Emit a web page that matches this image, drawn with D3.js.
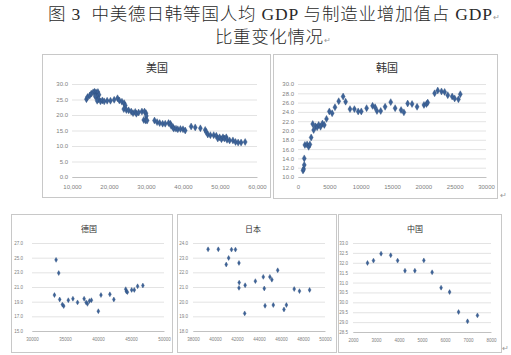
<!DOCTYPE html>
<html><head><meta charset="utf-8">
<script src="https://cdn.jsdelivr.net/npm/d3@7/dist/d3.min.js"></script>
<style>html,body{margin:0;padding:0;background:#fff;}svg{display:block;}</style>
</head><body>
<svg id="c" width="511" height="355"></svg>
<script>
// ---- data ----
const titleLine1 = "图 3  中美德日韩等国人均 GDP 与制造业增加值占 GDP";
const titleLine2 = "比重变化情况";
const panelTitles = ["美国", "韩国", "德国", "日本", "中国"];

const usX = [13900,14200,14800,15200,15700,16100,16500,16800,17000,17300,16800,16300,17200,16800,17700,18200,18700,19500,20400,21400,22300,22800,23500,24100,24400,24000,24700,25300,26000,26500,27100,27400,28000,28900,29600,30000,30100,29400,29900,30300,32300,33000,33700,34500,35200,36100,36600,36800,37300,37500,38100,38600,39300,40000,40600,42200,43300,44700,46000,46300,46700,47400,48300,49000,49400,49900,50400,50800,51200,51700,51900,52600,53500,54200,54900,55700,56800];
const usY = [25.1,25.8,26.3,26.9,27.3,27.5,27.3,26.8,27.4,26.5,26.0,26.0,25.1,24.6,24.4,24.7,24.4,24.6,24.6,24.9,25.4,24.7,24.3,23.8,23.1,21.9,21.6,21.5,21.1,20.6,21.0,20.4,20.8,21.1,21.1,20.6,19.7,18.4,18.2,18.2,18.2,17.7,17.4,17.2,17.2,17.4,17.2,16.5,16.1,15.6,15.6,15.4,15.5,15.4,15.0,16.3,16.0,15.7,15.2,14.5,13.7,13.5,13.5,13.3,12.4,12.8,12.2,12.8,12.4,12.8,12.0,11.8,11.8,11.3,11.1,11.1,11.3];

const krX = [800,900,1000,1000,1100,1450,1700,1900,2100,2350,2500,2800,3050,3300,3600,3900,4200,4550,5000,5450,5900,6500,7200,7600,8300,9000,9600,10100,10950,11900,12300,12600,13200,13900,14800,15500,16450,16900,17500,18200,19000,20100,20500,20700,21800,22300,22900,23400,23900,24600,25000,25600,25900];
const krY = [11.4,11.7,12.6,14.0,16.9,17.0,16.5,17.0,18.5,21.4,20.1,20.9,20.7,21.2,20.8,21.5,21.2,22.5,24.1,23.7,25.0,26.3,27.3,26.2,24.6,24.6,24.1,24.1,24.8,25.3,25.0,24.2,24.2,25.1,26.1,24.8,24.4,23.9,25.8,25.7,25.1,25.5,25.7,26.0,28.0,28.6,28.4,28.3,27.6,27.3,26.9,26.7,27.8];

const deX = [33400,33650,34050,34200,34600,34800,35500,36200,36900,37900,38200,38400,38700,39000,40050,40450,41800,42400,44200,44300,44450,45100,45500,46000,46800];
const deY = [19.9,24.7,22.9,19.3,18.6,18.4,19.2,19.4,18.9,19.4,18.9,18.7,19.1,19.2,17.7,19.9,20.0,19.3,20.7,20.4,20.3,20.6,20.6,21.1,21.2];

const jpX = [39370,40300,41500,41860,41240,41020,42180,42200,42180,42740,42700,43670,44390,44480,44550,44990,45170,45700,45300,46270,46490,47200,47680,48600];
const jpY = [23.57,23.57,23.55,23.55,22.98,22.53,22.64,21.3,20.94,21.12,19.2,21.4,21.69,20.9,19.72,21.69,21.5,22.14,19.77,19.47,19.77,20.86,20.72,20.8];

const cnX = [2630,2890,3220,3640,3940,4260,4690,5080,5440,5830,6200,6590,6980,7410];
const cnY = [31.99,32.11,32.46,32.38,32.11,31.6,31.6,32.12,31.52,30.74,30.52,29.51,29.04,29.34];

const usXTicks = [10000,20000,30000,40000,50000,60000];
const usYTicks = [0,5,10,15,20,25,30];
const krXTicks = [0,5000,10000,15000,20000,25000,30000];
const krYTicks = [10,12,14,16,18,20,22,24,26,28,30];
const deXTicks = [30000,35000,40000,45000,50000];
const deYTicks = [15,17,19,21,23,25,27];
const jpXTicks = [38000,40000,42000,44000,46000,48000,50000];
const jpYTicks = [18,19,20,21,22,23,24];
const cnXTicks = [2000,3000,4000,5000,6000,7000,8000];
const cnYTicks = [28.5,29,29.5,30,30.5,31,31.5,32,32.5,33];

// ---- drawing ----
const svg = d3.select("#c");
const serif = "'Liberation Serif','Noto Sans CJK SC',serif";
const cjk = "'Noto Sans CJK SC','Liberation Serif',serif";

svg.append("text").attr("x", 48).attr("y", 20).style("white-space", "pre")
  .attr("font-family", serif).attr("font-size", 17.5).attr("font-weight", 300).attr("fill", "#2a2a2a")
  .attr("textLength", 444).attr("lengthAdjust", "spacing").text(titleLine1);
svg.append("text").attr("x", 493).attr("y", 20).attr("font-size", 8).attr("fill", "#999").text("↵");
svg.append("text").attr("x", 215).attr("y", 43)
  .attr("font-family", serif).attr("font-size", 17.5).attr("font-weight", 300).attr("fill", "#2a2a2a")
  .attr("textLength", 108).attr("lengthAdjust", "spacing").text(titleLine2);
svg.append("text").attr("x", 324).attr("y", 43).attr("font-size", 8).attr("fill", "#999").text("↵");
svg.append("text").attr("x", 500).attr("y", 198).attr("font-size", 8).attr("fill", "#999").text("↵");
svg.append("text").attr("x", 502).attr("y", 351).attr("font-size", 8).attr("fill", "#999").text("↵");

function panel(o) {
  const g = svg.append("g");
  g.append("rect").attr("x", o.box[0] + 0.5).attr("y", o.box[1] + 0.5)
    .attr("width", o.box[2] - o.box[0]).attr("height", o.box[3] - o.box[1])
    .attr("fill", "#fff").attr("stroke", "#c8c8c8").attr("stroke-width", 1);
  g.append("text").attr("x", o.titleXY[0]).attr("y", o.titleXY[1])
    .attr("text-anchor", "middle").attr("dominant-baseline", "central")
    .attr("font-family", cjk).attr("font-size", o.titleSize).attr("fill", "#333")
    .text(o.title);
  const x = d3.scaleLinear().domain(o.xd).range(o.xr);
  const y = d3.scaleLinear().domain(o.yd).range(o.yr);
  const w = o.xr[1] - o.xr[0];
  const ya = g.append("g").attr("transform", `translate(${o.xr[0]},0)`)
    .call(d3.axisLeft(y).tickValues(o.yt).tickSize(-w).tickPadding(o.pad).tickFormat(d3.format(".1f")));
  ya.select(".domain").remove();
  ya.selectAll(".tick line").attr("stroke", "#dcdcdc").attr("stroke-width", 0.8);
  ya.selectAll(".tick text").attr("font-family", "'Liberation Sans',sans-serif")
    .attr("font-size", o.fs).attr("fill", "#808080");
  const xa = g.append("g").attr("transform", `translate(0,${o.yr[0]})`)
    .call(d3.axisBottom(x).tickValues(o.xt).tickSize(0).tickPadding(o.xpad).tickFormat(o.xf));
  xa.select(".domain").attr("stroke", "#bdbdbd").attr("stroke-width", 0.9);
  xa.selectAll(".tick text").attr("font-family", "'Liberation Sans',sans-serif")
    .attr("font-size", o.fs).attr("fill", "#808080");
  const sym = d3.symbol().type(d3.symbolDiamond).size(o.ms);
  g.append("g").selectAll("path").data(o.xs.map((v, i) => [v, o.ys[i]])).join("path")
    .attr("d", sym)
    .attr("transform", d => `translate(${x(d[0])},${y(d[1])})`)
    .attr("fill", "#3d6399").attr("stroke", "#2e4f7c").attr("stroke-width", 0.4);
}

panel({box:[42,54,270,197], title:panelTitles[0], titleXY:[157,67], titleSize:11,
  xd:[10000,60000], xr:[72,257], yd:[0,30], yr:[177,84], xt:usXTicks, yt:usYTicks,
  xf:d3.format(","), fs:6, pad:4, xpad:8, ms:14, xs:usX, ys:usY});
panel({box:[273,54,497,198], title:panelTitles[1], titleXY:[387,67], titleSize:11,
  xd:[0,30000], xr:[298,486], yd:[10,30], yr:[177,84], xt:krXTicks, yt:krYTicks,
  xf:d3.format("d"), fs:6, pad:4, xpad:8, ms:14, xs:krX, ys:krY});
panel({box:[11,214,172,352], title:panelTitles[2], titleXY:[89,228], titleSize:8,
  xd:[30000,50000], xr:[32,164], yd:[15,27], yr:[331,243], xt:deXTicks, yt:deYTicks,
  xf:d3.format("d"), fs:4.5, pad:9, xpad:7, ms:7, xs:deX, ys:deY});
panel({box:[177,214,336,352], title:panelTitles[3], titleXY:[253,228], titleSize:8,
  xd:[38000,50000], xr:[193,325], yd:[18,24], yr:[331,243], xt:jpXTicks, yt:jpYTicks,
  xf:d3.format("d"), fs:4.5, pad:5, xpad:7, ms:7, xs:jpX, ys:jpY});
panel({box:[338,214,501,352], title:panelTitles[4], titleXY:[415,228], titleSize:8,
  xd:[2000,8000], xr:[353,491], yd:[28.5,33], yr:[332,243], xt:cnXTicks, yt:cnYTicks,
  xf:d3.format("d"), fs:4.5, pad:5, xpad:7, ms:7, xs:cnX, ys:cnY});
</script>
</body></html>
